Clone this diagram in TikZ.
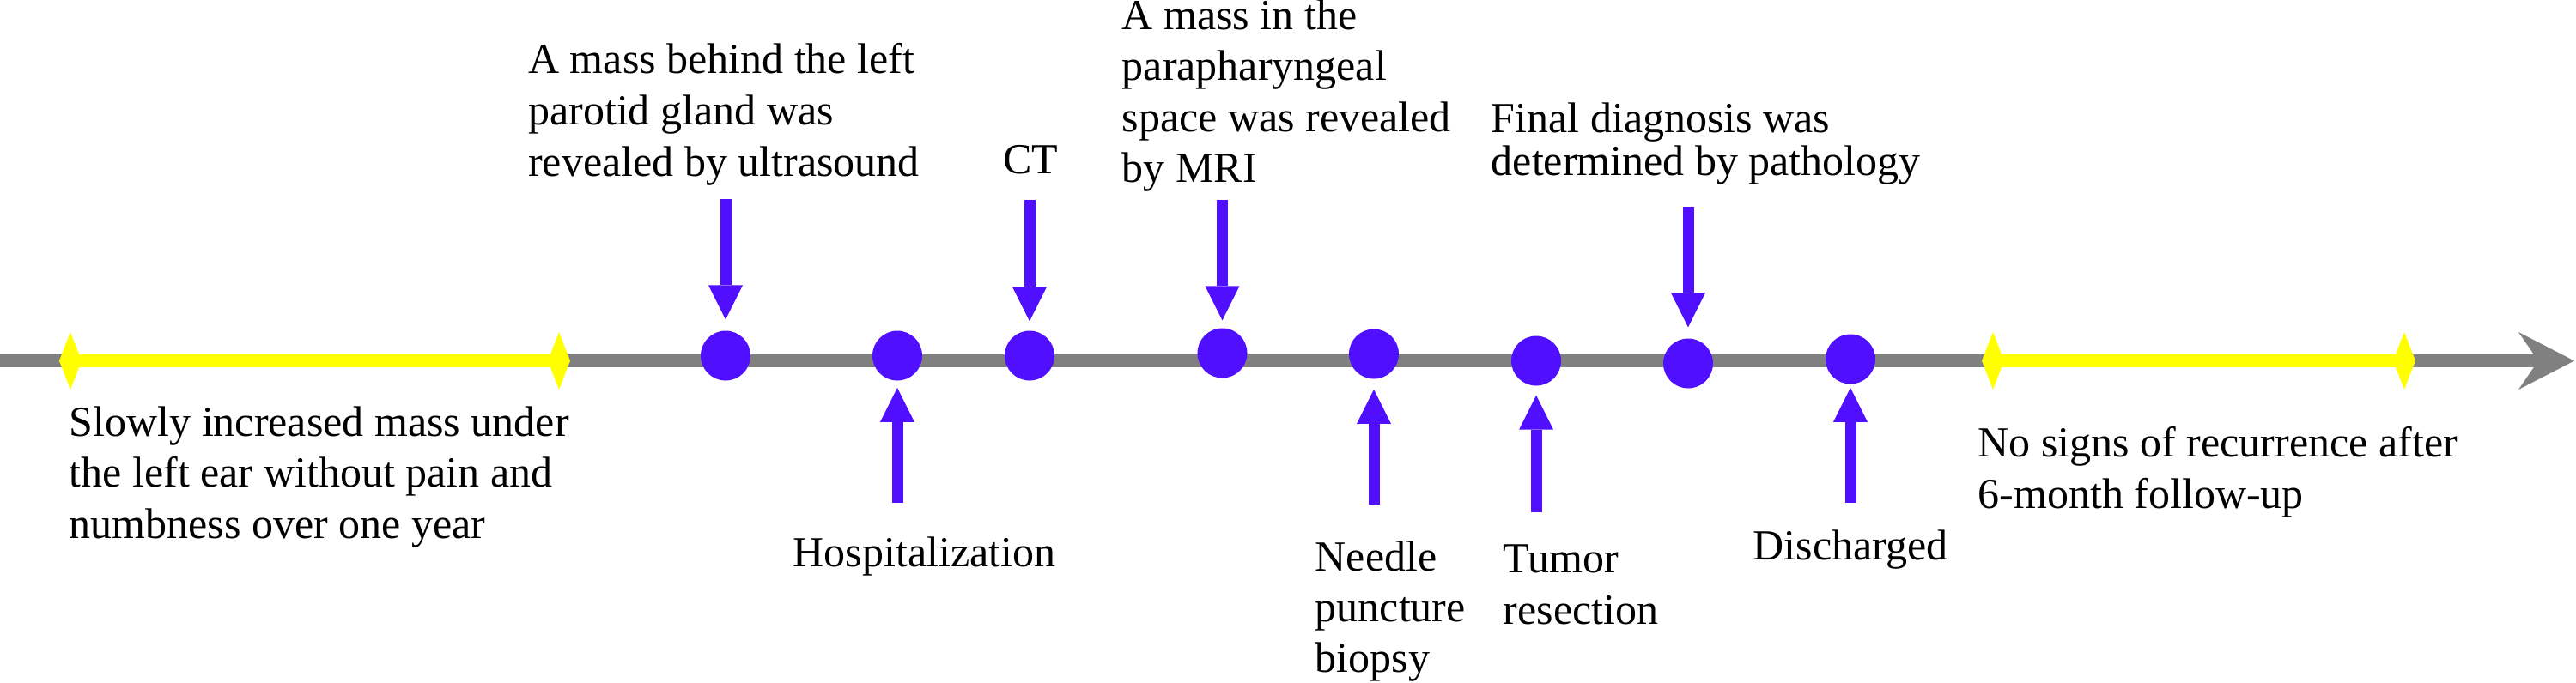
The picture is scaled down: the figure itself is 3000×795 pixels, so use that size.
\documentclass[tikz,border=0pt]{standalone}
\usepackage{fontspec}
\setmainfont{Liberation Serif}
\usetikzlibrary{arrows.meta}
\definecolor{evblue}{RGB}{80,16,255}
\definecolor{tlgray}{RGB}{128,128,128}
\definecolor{tlyellow}{RGB}{255,255,0}
\begin{document}
\begin{tikzpicture}[x=0.25pt,y=-0.25pt,
  dot/.style={circle,fill=evblue,minimum size=14.5pt,inner sep=0pt},
  evarrow/.style={draw=evblue,line width=3.25pt,-{Triangle[length=10pt,width=10pt,line width=0pt]}},
  timeline/.style={draw=tlgray,line width=3.75pt,-{Stealth[length=16.25pt,width=16.75pt,inset=5.75pt,line width=0pt]}},
  yseg/.style={draw=tlyellow,line width=3.8pt,{Diamond[length=6.5pt,width=16.75pt,line width=0pt]}-{Diamond[length=6.5pt,width=16.75pt,line width=0pt]}},
  lbl/.style={anchor=base west,inner sep=0pt,align=left,font=\fontsize{12.5}{15}\selectfont},
  lblc/.style={anchor=base,inner sep=0pt,align=center,font=\fontsize{12.5}{15}\selectfont}]
\path[fill=white,use as bounding box] (0,0) rectangle (3000,795);

% timeline
\coordinate (tls) at (0,420.5);
\coordinate (tle) at (2998,420.5);
\draw[timeline] (tls) -- (tle);

% yellow periods
\coordinate (ya1) at (69,420.5);
\coordinate (yb1) at (664,420.5);
\draw[yseg] (ya1) -- (yb1);
\coordinate (ya2) at (2308,420.5);
\coordinate (yb2) at (2813,420.5);
\draw[yseg] (ya2) -- (yb2);

% event dots
\node[dot] (c1) at (845,414.5) {};
\node[dot] (c2) at (1045,414.5) {};
\node[dot] (c3) at (1199,414.5) {};
\node[dot] (c4) at (1423.5,411.5) {};
\node[dot] (c5) at (1600,412.5) {};
\node[dot] (c6) at (1789,420.5) {};
\node[dot] (c7) at (1966,423.5) {};
\node[dot] (c8) at (2155,418.5) {};

% arrows from above
\coordinate (a1) at (845,232);
\draw[evarrow,shorten >=3.1pt] (a1) -- (c1);
\coordinate (a3) at (1199,233);
\draw[evarrow,shorten >=2.6pt] (a3) -- (c3);
\coordinate (a4) at (1423.5,233);
\draw[evarrow,shorten >=2.1pt] (a4) -- (c4);
\coordinate (a7) at (1966,241);
\draw[evarrow,shorten >=3.1pt] (a7) -- (c7);

% arrows from below
\coordinate (a2) at (1045,586);
\draw[evarrow,shorten >=1.9pt] (a2) -- (c2);
\coordinate (a5) at (1600,588);
\draw[evarrow,shorten >=2.9pt] (a5) -- (c5);
\coordinate (a6) at (1789,597);
\draw[evarrow,shorten >=2.6pt] (a6) -- (c6);
\coordinate (a8) at (2155,586);
\draw[evarrow,shorten >=0.9pt] (a8) -- (c8);

% labels (anchor = baseline of last line)
\node[lbl] (t1) at (614.5,205) {A mass behind the left\\parotid gland was\\revealed by ultrasound};
\node[lblc] (t3) at (1200,202) {CT};
\node[lbl,font=\fontsize{12.5}{14.875}\selectfont] (t4) at (1306,212.5) {A mass in the\\parapharyngeal\\space was revealed\\by MRI};
\node[lbl,font=\fontsize{12.5}{12.5}\selectfont] (t7) at (1736,204) {Final diagnosis was\\determined by pathology};
\node[lbl,font=\fontsize{12.5}{14.875}\selectfont] (t0) at (80,627) {Slowly increased mass under\\the left ear without pain and\\numbness over one year};
\node[lbl] (t2) at (923,660) {Hospitalization};
\node[lbl,font=\fontsize{12.5}{14.75}\selectfont] (t5) at (1531,783) {Needle\\puncture\\biopsy};
\node[lbl] (t6) at (1750,727) {Tumor\\resection};
\node[lbl] (t8) at (2041,652) {Discharged};
\node[lbl] (t9) at (2303,592) {No signs of recurrence after\\6-month follow-up};
\end{tikzpicture}
\end{document}
